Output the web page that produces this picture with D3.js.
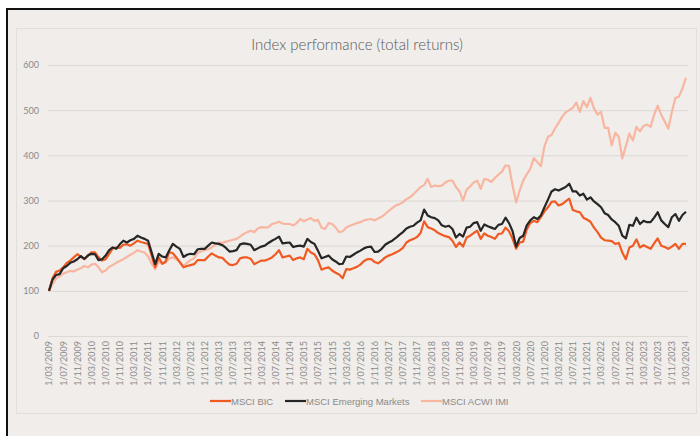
<!DOCTYPE html>
<html><head><meta charset="utf-8">
<script src="https://cdn.jsdelivr.net/npm/d3@7"></script>
<style>body{margin:0;background:#fff;}svg{display:block;font-family:Lato,"Open Sans",sans-serif;}</style>
</head><body><svg id="c" width="700" height="436"></svg>
<script>
// Monthly categories 1/03/2009 .. 1/03/2024
const startYear = 2009, startMonth = 3, nMonths = 181;
const months = d3.range(nMonths).map(i => {
  const m = (startMonth - 1 + i) % 12 + 1, y = startYear + Math.floor((startMonth - 1 + i) / 12);
  return "1/" + String(m).padStart(2, "0") + "/" + y;
});
const seriesNames = ["MSCI BIC", "MSCI Emerging Markets", "MSCI ACWI IMI"];
const yTicks = [0, 100, 200, 300, 400, 500, 600];

const msciBIC = [100,128,142,145,152,162,167,174,181,176,170,178,185,185,174,167,170,182,194,196,195,202,203,200,205,211,208,206,204,178,152,174,160,165,186,183,174,163,152,155,157,159,168,168,168,
176,183,178,174,173,165,158,157,160,172,174,174,171,159,163,167,167,170,174,181,190,174,176,178,168,172,174,170,193,185,181,168,147,150,152,145,140,136,128,148,147,150,153,158,
166,170,170,164,161,167,174,178,181,185,189,195,207,212,215,219,228,254,241,238,234,228,224,221,219,211,197,207,198,218,222,228,233,215,227,222,219,215,226,227,240,232,215,193,207,209,236,250,255,252,263,276,285,297,298,289,292,298,304,279,276,274,262,258,253,240,230,218,212,211,210,204,206,185,170,196,200,214,196,201,197,193,205,216,200,197,193,198,204,193,204,204];

const msciEM = [100,125,135,137,150,155,162,165,170,177,171,178,182,181,168,170,178,190,196,193,203,211,207,212,215,222,218,215,211,185,159,182,176,174,190,204,198,193,175,180,182,181,192,193,193,
200,207,205,204,201,195,187,188,190,203,205,204,202,190,194,198,200,206,211,215,220,205,206,207,197,199,200,198,215,208,204,189,172,175,178,170,165,159,160,176,175,180,185,189,
194,197,198,186,187,193,202,207,211,217,224,230,238,242,244,251,256,280,267,263,261,256,245,242,244,237,218,226,220,240,242,250,252,233,247,243,240,237,246,248,262,250,232,198,217,222,245,256,263,259,267,285,302,320,325,322,326,330,337,320,320,311,315,302,307,298,292,285,272,268,258,252,244,222,216,246,244,262,248,255,252,252,262,274,256,248,241,263,270,255,268,275];

const msciACWI = [100,115,127,132,138,141,144,143,147,150,155,152,158,160,152,141,145,153,157,162,166,170,175,180,184,190,187,185,176,160,148,165,160,163,172,174,170,163,155,162,168,172,184,187,190,
192,196,203,207,206,209,211,213,215,220,226,230,233,230,238,241,240,241,248,250,253,249,248,248,245,250,259,254,258,261,255,257,240,237,250,248,240,230,232,240,244,247,250,252,
256,258,259,256,260,264,270,277,283,289,292,296,303,307,314,322,330,334,348,330,333,332,333,340,344,344,330,320,300,324,331,340,344,326,348,346,341,350,357,364,378,376,333,296,322,344,358,370,394,385,376,420,441,445,460,472,485,495,500,505,517,496,520,507,527,504,490,496,461,461,422,450,441,393,420,448,433,463,453,465,468,463,490,510,490,475,459,496,527,530,548,572];

const seriesData = [msciBIC, msciEM, msciACWI];
const colors = ["#f05a23", "#262626", "#f8b6a1"];

const svg = d3.select("#c");
// outer frame
svg.append("rect").attr("x", 7).attr("y", 9).attr("width", 700).attr("height", 440).attr("fill", "#f0edea")
  .attr("stroke", "#111").attr("stroke-width", 2);
// inner chart border
svg.append("rect").attr("x", 16.5).attr("y", 28.5).attr("width", 680).attr("height", 385)
  .attr("fill", "none").attr("stroke", "#e2deda").attr("stroke-width", 1);

const x = d3.scalePoint().domain(months).range([49, 686]);
const y = d3.scaleLinear().domain([0, 600]).range([336, 65]);

// gridlines
svg.append("g").selectAll("line").data(yTicks).join("line")
  .attr("x1", 48).attr("x2", 688).attr("y1", d => y(d) + 0.5).attr("y2", d => y(d) + 0.5)
  .attr("stroke", "#dcd8d4").attr("stroke-width", 1);

// y axis labels
const yAxis = d3.axisLeft(y).tickValues(yTicks).tickSize(0).tickPadding(0);
const gy = svg.append("g").attr("transform", "translate(39,0)").call(yAxis);
gy.select(".domain").remove();
gy.selectAll("text").attr("fill", "#8a8a8a").attr("font-size", 9).attr("font-family", "Lato, sans-serif");

// x axis labels
const xAxis = d3.axisBottom(x).tickValues(months.filter((d, i) => i % 4 === 0)).tickSize(0).tickPadding(0);
const gx = svg.append("g").attr("transform", "translate(0,341)").call(xAxis);
gx.select(".domain").remove();
gx.selectAll("text").attr("fill", "#8a8a8a").attr("font-size", 9).attr("font-family", "Lato, sans-serif")
  .attr("text-anchor", "end").attr("dy", "0.32em").attr("transform", "rotate(-90)");

// lines (ACWI drawn first so dark lines on top)
const line = d3.line().x((d, i) => x(months[i])).y(d => y(d));
[2, 0, 1].forEach(k => {
  svg.append("path").datum(seriesData[k]).attr("d", line).attr("fill", "none")
    .attr("stroke", colors[k]).attr("stroke-width", 2.2).attr("stroke-linejoin", "round");
});

// title
svg.append("text").attr("x", 357).attr("y", 50).attr("text-anchor", "middle")
  .attr("font-size", 15).attr("font-weight", 300).attr("fill", "#595959").attr("font-family", "Lato, sans-serif")
  .text("Index performance (total returns)");

// legend
const legX = [210, 285, 421];
const lg = svg.append("g");
seriesNames.forEach((n, k) => {
  lg.append("line").attr("x1", legX[k]).attr("x2", legX[k] + 21).attr("y1", 401).attr("y2", 401)
    .attr("stroke", colors[k]).attr("stroke-width", 2.2);
  lg.append("text").attr("x", legX[k] + 21).attr("y", 404.5).attr("font-size", 9.5)
    .attr("fill", "#8a8a8a").attr("font-family", "'Liberation Sans', Arial, sans-serif").text(n);
});
</script></body></html>
